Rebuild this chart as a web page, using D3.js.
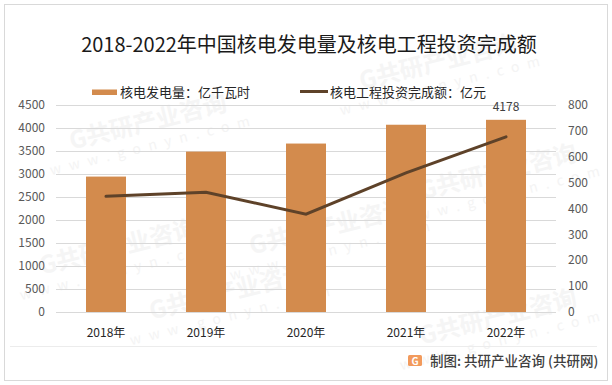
<!DOCTYPE html>
<html lang="zh">
<head>
<meta charset="UTF-8">
<title>核电发电量及核电工程投资完成额</title>
<script src="https://d3js.org/d3.v7.min.js"></script>
<style>
	body { margin: 0; background: #fff; }
	text { font-family: "Noto Sans CJK SC", "Microsoft YaHei", sans-serif; }
</style>
</head>
<body>
<script>
	// data
	var years = ['2018年', '2019年', '2020年', '2021年', '2022年'];
	var generation = [2944, 3487, 3662, 4071, 4178];   // 亿千瓦时
	var investment = [447, 463, 378, 538, 677];        // 亿元
	var leftTicks = [0, 500, 1000, 1500, 2000, 2500, 3000, 3500, 4000, 4500];
	var rightTicks = [0, 100, 200, 300, 400, 500, 600, 700, 800];

	var W = 612, H = 385;
	var margin = {top: 105, left: 56, right: 56, bottom: 73};
	var width = W - margin.left - margin.right;
	var height = H - margin.top - margin.bottom;

	var svg = d3.select('body').append('svg')
		.attr('width', W)
		.attr('height', H);

	// frame
	svg.append('rect')
		.attr('x', 4.5).attr('y', 4.5)
		.attr('width', 603).attr('height', 376)
		.attr('fill', '#fff')
		.attr('stroke', '#d9d9d9');

	// faint watermarks
	var wm = [[150, 130], [440, 70], [120, 255], [330, 235], [500, 180], [230, 300], [500, 325]];
	wm.forEach(function (p) {
		var g = svg.append('g')
			.attr('transform', 'translate(' + p[0] + ',' + p[1] + ') rotate(-14)');
		g.append('text')
			.attr('text-anchor', 'middle')
			.style('font-size', '24px').style('font-weight', 'bold')
			.attr('fill', '#f5f5f5')
			.text('G共研产业咨询');
		g.append('text')
			.attr('text-anchor', 'middle').attr('y', 20)
			.style('font-size', '14px').style('letter-spacing', '8px')
			.attr('fill', '#f4f4f4')
			.text('www.gonyn.com');
	});

	var chart = svg.append('g')
		.attr('transform', 'translate(' + margin.left + ',' + margin.top + ')');

	var x = d3.scaleBand().domain(years).range([0, width]).paddingInner(0.6).paddingOuter(0.3);
	var y = d3.scaleLinear().domain([0, 4500]).range([height, 0]);
	var y2 = d3.scaleLinear().domain([0, 800]).range([height, 0]);

	// grid
	chart.selectAll('.grid').data(leftTicks).enter().append('line')
		.attr('x1', 0).attr('x2', width)
		.attr('y1', function (d) { return Math.round(y(d)) + 0.5; })
		.attr('y2', function (d) { return Math.round(y(d)) + 0.5; })
		.attr('stroke', '#d9d9d9');

	// left axis labels
	chart.selectAll('.ly').data(leftTicks).enter().append('text')
		.attr('x', -11).attr('y', function (d) { return y(d); })
		.attr('dy', '0.35em')
		.attr('text-anchor', 'end')
		.style('font-size', '12px').attr('fill', '#595959')
		.text(function (d) { return d; });

	// right axis labels
	chart.selectAll('.ry').data(rightTicks).enter().append('text')
		.attr('x', width + 12).attr('y', function (d) { return y2(d); })
		.attr('dy', '0.35em')
		.style('font-size', '12px').attr('fill', '#595959')
		.text(function (d) { return d; });

	// bars
	chart.selectAll('.bar').data(generation).enter().append('rect')
		.attr('x', function (d, i) { return x(years[i]); })
		.attr('y', function (d) { return y(d); })
		.attr('width', x.bandwidth())
		.attr('height', function (d) { return height - y(d); })
		.attr('fill', '#d38b4d');

	// label on last bar
	chart.append('text')
		.attr('x', x(years[4]) + x.bandwidth() / 2)
		.attr('y', y(generation[4]) - 9)
		.attr('text-anchor', 'middle')
		.style('font-size', '12px').attr('fill', '#404040')
		.text(generation[4]);

	// line
	var line = d3.line()
		.x(function (d, i) { return x(years[i]) + x.bandwidth() / 2; })
		.y(function (d) { return y2(d); });
	chart.append('path')
		.datum(investment)
		.attr('d', line)
		.attr('fill', 'none')
		.attr('stroke', '#5e4229')
		.attr('stroke-width', 3)
		.attr('stroke-linecap', 'round');

	// category labels
	chart.selectAll('.xl').data(years).enter().append('text')
		.attr('x', function (d) { return x(d) + x.bandwidth() / 2; })
		.attr('y', height + 21)
		.attr('dy', '0.35em')
		.attr('text-anchor', 'middle')
		.style('font-size', '12px').attr('fill', '#262626')
		.text(function (d) { return d; });

	// title
	svg.append('text')
		.attr('x', 309).attr('y', 52)
		.attr('text-anchor', 'middle')
		.style('font-size', '20px').attr('fill', '#1a1a1a')
		.text('2018-2022年中国核电发电量及核电工程投资完成额');

	// legend
	svg.append('rect')
		.attr('x', 92).attr('y', 89.5).attr('width', 25).attr('height', 5.5)
		.attr('fill', '#d38b4d');
	svg.append('text')
		.attr('x', 120).attr('y', 92.5).attr('dy', '0.35em')
		.style('font-size', '13px').attr('fill', '#262626')
		.text('核电发电量：亿千瓦时');
	svg.append('line')
		.attr('x1', 300).attr('x2', 328).attr('y1', 91.5).attr('y2', 91.5)
		.attr('stroke', '#5e4229').attr('stroke-width', 3);
	svg.append('text')
		.attr('x', 330).attr('y', 92.5).attr('dy', '0.35em')
		.style('font-size', '13px').attr('fill', '#262626')
		.text('核电工程投资完成额：亿元');

	// footer
	svg.append('line')
		.attr('x1', 10).attr('x2', 597).attr('y1', 346.5).attr('y2', 346.5)
		.attr('stroke', '#ececec');
	var logo = svg.append('g').attr('transform', 'translate(408,355)');
	logo.append('rect').attr('width', 14).attr('height', 11).attr('rx', 1.5).attr('fill', '#f29a5c');
	logo.append('text').attr('x', 7).attr('y', 9.5).attr('text-anchor', 'middle')
		.style('font-size', '10px').style('font-weight', 'bold').attr('fill', '#fff').text('G');
	svg.append('text')
		.attr('x', 430).attr('y', 361).attr('dy', '0.35em')
		.style('font-size', '13.5px').style('font-weight', '500').attr('fill', '#404040')
		.text('制图: 共研产业咨询 (共研网)');
</script>
</body>
</html>
